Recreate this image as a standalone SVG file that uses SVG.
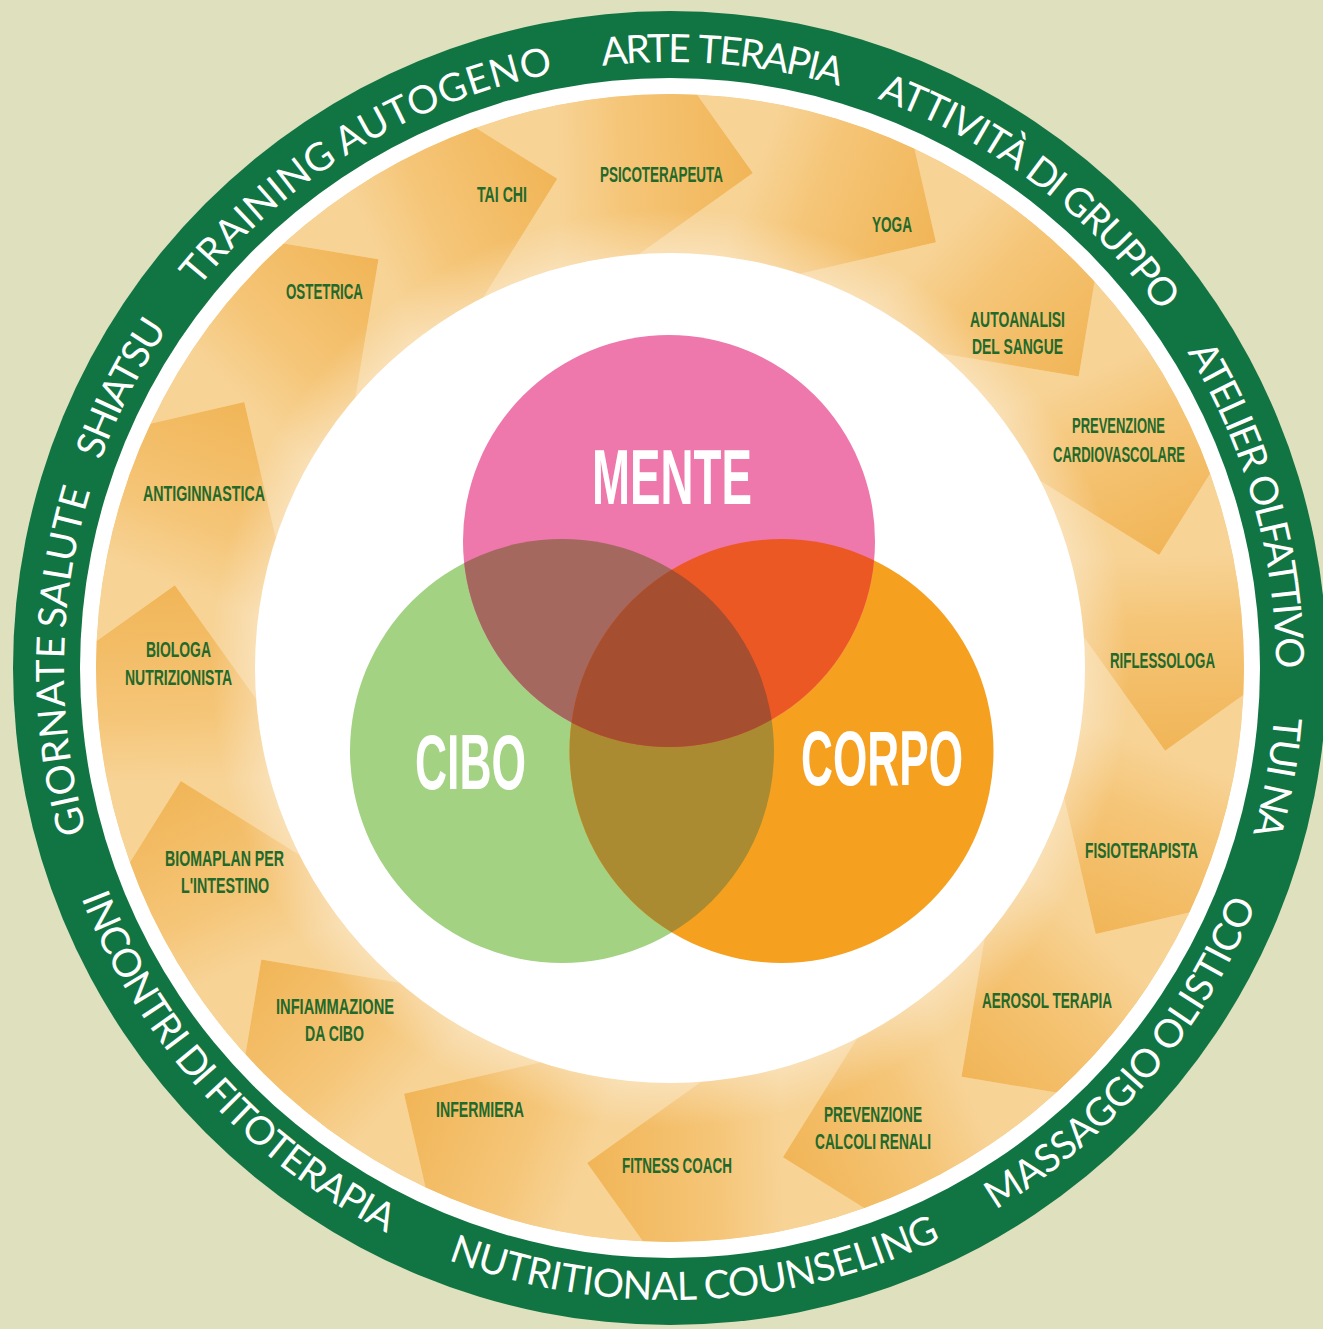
<svg xmlns="http://www.w3.org/2000/svg" width="1323" height="1329" viewBox="0 0 1323 1329">
<defs>
<style>
.ring{font-family:Lato,"Liberation Sans",sans-serif;font-weight:400;font-size:39px;fill:#ffffff}
.lbl{font-family:"Liberation Sans",Arial,sans-serif;font-weight:bold;font-size:22px;fill:#22692a;text-anchor:middle}
.big{font-family:"Liberation Sans",Arial,sans-serif;font-weight:bold;font-size:78px;fill:#ffffff;text-anchor:middle}
</style>
<linearGradient id="ag" gradientUnits="userSpaceOnUse" x1="478" y1="204" x2="670" y2="166">
<stop offset="0" stop-color="#f7d396"/>
<stop offset="0.35" stop-color="#f5c577"/>
<stop offset="1" stop-color="#f1b557"/>
</linearGradient>
<radialGradient id="glow" gradientUnits="userSpaceOnUse" cx="670" cy="668" r="574">
<stop offset="0.72" stop-color="#ffffff" stop-opacity="0.3"/>
<stop offset="0.8" stop-color="#ffffff" stop-opacity="0"/>
</radialGradient>
<polygon id="arrow" points="670,166 556.9,279.1 416.7,352 477.9,204.2 330.1,143 556.9,52.9" fill="url(#ag)"/>
<clipPath id="ringclip"><circle cx="670" cy="668" r="574"/></clipPath>
<clipPath id="cpPink"><circle cx="669" cy="541" r="206"/></clipPath>
<clipPath id="cpGreen"><circle cx="562" cy="751" r="212"/></clipPath>
<path id="topArc" d="M670,1274 A606,606 0 1 1 670,62 A606,606 0 1 1 670,1274" fill="none"/>
<path id="botArc" d="M670,36 A632,632 0 1 0 670,1300 A632,632 0 1 0 670,36" fill="none"/>
</defs>
<rect x="0" y="0" width="1323" height="1329" fill="#dfe0be"/>
<g id="outer-ring">
<circle cx="670" cy="668" r="657" fill="#117443"/>
<circle cx="670" cy="668" r="590" fill="#ffffff"/>
</g>
<g id="ring-texts">
<g id="t-giornate">
<text class="ring" text-anchor="middle"><textPath href="#topArc" startOffset="884.7" textLength="197.7">GIORNATE</textPath></text>
<text class="ring" text-anchor="middle"><textPath href="#topArc" startOffset="1061.4" textLength="140.8">SALUTE</textPath></text>
</g>
<g id="t-shiatsu"><text class="ring" text-anchor="middle"><textPath href="#topArc" startOffset="1237.5" textLength="148">SHIATSU</textPath></text></g>
<g id="t-training">
<text class="ring" text-anchor="middle"><textPath href="#topArc" startOffset="1458" textLength="189">TRAINING</textPath></text>
<text class="ring" text-anchor="middle"><textPath href="#topArc" startOffset="1673.3" textLength="226">AUTOGENO</textPath></text>
</g>
<g id="t-arte">
<text class="ring" text-anchor="middle"><textPath href="#topArc" startOffset="1879.9" textLength="88.5">ARTE</textPath></text>
<text class="ring" text-anchor="middle"><textPath href="#topArc" startOffset="2003.2" textLength="144.6">TERAPIA</textPath></text>
</g>
<g id="t-attivita">
<text class="ring" text-anchor="middle"><textPath href="#topArc" startOffset="2194.4" textLength="158.6">ATTIVITÀ</textPath></text>
<text class="ring" text-anchor="middle"><textPath href="#topArc" startOffset="2299.3" textLength="37.3">DI</textPath></text>
<text class="ring" text-anchor="middle"><textPath href="#topArc" startOffset="2399.9" textLength="150.2">GRUPPO</textPath></text>
</g>
<g id="t-atelier">
<text class="ring" text-anchor="middle"><textPath href="#topArc" startOffset="2590.2" textLength="134.2">ATELIER</textPath></text>
<text class="ring" text-anchor="middle"><textPath href="#topArc" startOffset="2760" textLength="192.1">OLFATTIVO</textPath></text>
</g>
<g id="t-tuina">
<text class="ring" text-anchor="middle"><textPath href="#topArc" startOffset="2933.5" textLength="58.8">TUI</textPath></text>
<text class="ring" text-anchor="middle"><textPath href="#topArc" startOffset="2996.5" textLength="53.2">NA</textPath></text>
</g>
<g id="t-massaggio">
<text class="ring" text-anchor="middle"><textPath href="#botArc" startOffset="2441.2" textLength="228.5">MASSAGGIO</textPath></text>
<text class="ring" text-anchor="middle"><textPath href="#botArc" startOffset="2649.4" textLength="173.1">OLISTICO</textPath></text>
</g>
<g id="t-nutritional">
<text class="ring" text-anchor="middle"><textPath href="#botArc" startOffset="1885.6" textLength="254.3">NUTRITIONAL</textPath></text>
<text class="ring" text-anchor="middle"><textPath href="#botArc" startOffset="2142.7" textLength="245.4">COUNSELING</textPath></text>
</g>
<g id="t-incontri">
<text class="ring" text-anchor="middle"><textPath href="#botArc" startOffset="1317.4" textLength="179.1">INCONTRI</textPath></text>
<text class="ring" text-anchor="middle"><textPath href="#botArc" startOffset="1433" textLength="38.1">DI</textPath></text>
<text class="ring" text-anchor="middle"><textPath href="#botArc" startOffset="1575.5" textLength="232.6">FITOTERAPIA</textPath></text>
</g>
</g>
<g id="arrows" clip-path="url(#ringclip)">
<circle cx="670" cy="668" r="574" fill="#f5c679"/>
<use href="#arrow" transform="rotate(9.5 670 668)"/>
<use href="#arrow" transform="rotate(32 670 668)"/>
<use href="#arrow" transform="rotate(54.5 670 668)"/>
<use href="#arrow" transform="rotate(77 670 668)"/>
<use href="#arrow" transform="rotate(99.5 670 668)"/>
<use href="#arrow" transform="rotate(122 670 668)"/>
<use href="#arrow" transform="rotate(144.5 670 668)"/>
<use href="#arrow" transform="rotate(167 670 668)"/>
<use href="#arrow" transform="rotate(189.5 670 668)"/>
<use href="#arrow" transform="rotate(212 670 668)"/>
<use href="#arrow" transform="rotate(234.5 670 668)"/>
<use href="#arrow" transform="rotate(257 670 668)"/>
<use href="#arrow" transform="rotate(279.5 670 668)"/>
<use href="#arrow" transform="rotate(302 670 668)"/>
<use href="#arrow" transform="rotate(324.5 670 668)"/>
<use href="#arrow" transform="rotate(347 670 668)"/>
<circle cx="670" cy="668" r="574" fill="url(#glow)"/>
</g>
<circle id="inner-white" cx="670" cy="668" r="415" fill="#ffffff"/>
<g id="labels">
<g id="n-taichi"><text class="lbl" x="502" y="202" textLength="50" lengthAdjust="spacingAndGlyphs">TAI CHI</text></g>
<g id="n-psico"><text class="lbl" x="661.5" y="182" textLength="123" lengthAdjust="spacingAndGlyphs">PSICOTERAPEUTA</text></g>
<g id="n-yoga"><text class="lbl" x="892" y="232" textLength="40" lengthAdjust="spacingAndGlyphs">YOGA</text></g>
<g id="n-ostetrica"><text class="lbl" x="324.5" y="299" textLength="77" lengthAdjust="spacingAndGlyphs">OSTETRICA</text></g>
<g id="n-autoanalisi"><text class="lbl" x="1017.5" y="327" textLength="95" lengthAdjust="spacingAndGlyphs">AUTOANALISI</text><text class="lbl" x="1017.5" y="354" textLength="91" lengthAdjust="spacingAndGlyphs">DEL SANGUE</text></g>
<g id="n-prevcardio"><text class="lbl" x="1118.5" y="433" textLength="93" lengthAdjust="spacingAndGlyphs">PREVENZIONE</text><text class="lbl" x="1119" y="462" textLength="132" lengthAdjust="spacingAndGlyphs">CARDIOVASCOLARE</text></g>
<g id="n-riflessologa"><text class="lbl" x="1162.5" y="668" textLength="105" lengthAdjust="spacingAndGlyphs">RIFLESSOLOGA</text></g>
<g id="n-fisio"><text class="lbl" x="1141.5" y="858" textLength="113" lengthAdjust="spacingAndGlyphs">FISIOTERAPISTA</text></g>
<g id="n-aerosol"><text class="lbl" x="1047" y="1008" textLength="130" lengthAdjust="spacingAndGlyphs">AEROSOL TERAPIA</text></g>
<g id="n-prevcalcoli"><text class="lbl" x="873" y="1122" textLength="98" lengthAdjust="spacingAndGlyphs">PREVENZIONE</text><text class="lbl" x="873" y="1149" textLength="116" lengthAdjust="spacingAndGlyphs">CALCOLI RENALI</text></g>
<g id="n-fitness"><text class="lbl" x="677" y="1173" textLength="110" lengthAdjust="spacingAndGlyphs">FITNESS COACH</text></g>
<g id="n-infermiera"><text class="lbl" x="480" y="1117" textLength="88" lengthAdjust="spacingAndGlyphs">INFERMIERA</text></g>
<g id="n-infiammazione"><text class="lbl" x="335" y="1014" textLength="118" lengthAdjust="spacingAndGlyphs">INFIAMMAZIONE</text><text class="lbl" x="334.5" y="1041" textLength="59" lengthAdjust="spacingAndGlyphs">DA CIBO</text></g>
<g id="n-biomaplan"><text class="lbl" x="224.5" y="866" textLength="119" lengthAdjust="spacingAndGlyphs">BIOMAPLAN PER</text><text class="lbl" x="225" y="893" textLength="88" lengthAdjust="spacingAndGlyphs">L'INTESTINO</text></g>
<g id="n-biologa"><text class="lbl" x="178.5" y="657" textLength="65" lengthAdjust="spacingAndGlyphs">BIOLOGA</text><text class="lbl" x="178.5" y="685" textLength="107" lengthAdjust="spacingAndGlyphs">NUTRIZIONISTA</text></g>
<g id="n-antiginnastica"><text class="lbl" x="204" y="501" textLength="122" lengthAdjust="spacingAndGlyphs">ANTIGINNASTICA</text></g>
</g>
<g id="venn">
<g id="n-cibo"><circle cx="562" cy="751" r="212" fill="#a3d283"/></g>
<g id="n-corpo"><circle cx="781.5" cy="751" r="212" fill="#f6a01f"/></g>
<g id="n-mente"><circle cx="669" cy="541" r="206" fill="#ee77ab"/></g>
<g id="overlaps">
<circle cx="781.5" cy="751" r="212" fill="#aa8b31" clip-path="url(#cpGreen)"/>
<circle cx="562" cy="751" r="212" fill="#a4685e" clip-path="url(#cpPink)"/>
<circle cx="781.5" cy="751" r="212" fill="#ec5824" clip-path="url(#cpPink)"/>
<g clip-path="url(#cpPink)"><circle cx="781.5" cy="751" r="212" fill="#a54e30" clip-path="url(#cpGreen)"/></g>
</g>
<text class="big" x="672" y="504" textLength="160" lengthAdjust="spacingAndGlyphs">MENTE</text>
<text class="big" x="470.5" y="789" textLength="111" lengthAdjust="spacingAndGlyphs">CIBO</text>
<text class="big" x="882" y="785" textLength="162" lengthAdjust="spacingAndGlyphs">CORPO</text>
</g>
</svg>
